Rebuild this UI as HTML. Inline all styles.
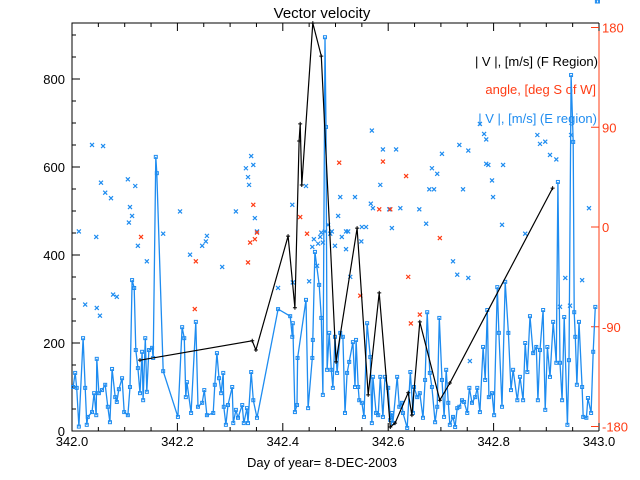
<!DOCTYPE html>
<html><head><meta charset="utf-8"><style>
html,body{margin:0;padding:0;background:#fff}
svg{display:block;font-family:"Liberation Sans",sans-serif}
</style></head><body>
<svg id="chart" width="640" height="480">
<text x="322" y="18" font-size="15" text-anchor="middle">Vector velocity</text>
<text x="322" y="467" font-size="13" text-anchor="middle">Day of year= 8-DEC-2003</text>
<g font-size="13" text-anchor="end">
<text x="598" y="66" fill="#000">| V |, [m/s] (F Region)</text>
<text x="596" y="94" fill="#ff3c14">angle, [deg S of W]</text>
<text x="597" y="123" fill="#1e8cf0">| V |, [m/s] (E region)</text>
</g>
<g id="axes"></g>
<g id="marks"></g>
</svg>
<script>
const xTicks=[342.0,342.2,342.4,342.6,342.8,343.0];
const xTickLabels=["342.0","342.2","342.4","342.6","342.8","343.0"];
const yTicks=[0,200,400,600,800];
const angTicks=[180,90,0,-90,-180];
const fDoy=[0.129,0.342,0.349,0.410,0.423,0.431,0.433,0.436,0.457,0.473,0.501,0.541,0.562,0.583,0.604,0.613,0.638,0.645,0.660,0.698,0.717,0.912];
const fVel=[161,205,184,443,280,659,698,559,927,852,157,461,82,314,9,18,87,36,248,70,109,552];
const eDoy=[0.002,0.006,0.009,0.013,0.021,0.025,0.028,0.030,0.038,0.042,0.046,0.047,0.051,0.057,0.063,0.068,0.072,0.076,0.082,0.085,0.089,0.095,0.099,0.106,0.110,0.114,0.118,0.121,0.125,0.129,0.133,0.135,0.139,0.142,0.146,0.152,0.154,0.159,0.161,0.173,0.201,0.209,0.213,0.216,0.218,0.226,0.235,0.239,0.247,0.251,0.256,0.268,0.271,0.275,0.279,0.283,0.287,0.288,0.292,0.296,0.304,0.306,0.311,0.315,0.323,0.326,0.332,0.334,0.340,0.344,0.351,0.391,0.414,0.418,0.419,0.423,0.427,0.428,0.444,0.448,0.456,0.457,0.461,0.469,0.473,0.476,0.480,0.482,0.484,0.488,0.492,0.495,0.499,0.503,0.509,0.514,0.518,0.522,0.526,0.533,0.537,0.539,0.543,0.545,0.550,0.554,0.560,0.566,0.569,0.571,0.577,0.581,0.585,0.590,0.594,0.600,0.604,0.607,0.609,0.617,0.621,0.626,0.628,0.636,0.642,0.647,0.649,0.655,0.660,0.666,0.670,0.674,0.679,0.683,0.689,0.693,0.697,0.702,0.706,0.710,0.714,0.717,0.723,0.727,0.731,0.735,0.740,0.744,0.750,0.754,0.759,0.765,0.769,0.774,0.780,0.784,0.788,0.791,0.797,0.801,0.807,0.810,0.816,0.822,0.828,0.833,0.837,0.845,0.850,0.856,0.860,0.864,0.869,0.875,0.881,0.884,0.888,0.894,0.898,0.902,0.907,0.913,0.919,0.922,0.926,0.930,0.934,0.940,0.943,0.947,0.951,0.953,0.955,0.958,0.962,0.968,0.970,0.976,0.979,0.985,0.989,0.993,0.996,0.998];
const eVel=[100,132,98,10,211,98,14,32,43,86,36,164,86,93,105,55,20,141,77,66,95,120,43,36,100,343,325,184,143,86,180,70,211,89,184,189,166,623,586,136,32,236,211,77,111,41,248,55,64,93,36,41,105,177,120,86,132,55,14,59,100,18,48,30,59,18,52,18,134,70,30,277,261,214,245,43,59,166,298,52,166,207,407,332,257,82,895,691,139,223,139,98,214,132,223,214,41,132,157,202,100,207,100,70,64,32,245,168,18,123,41,36,123,32,123,98,25,41,18,123,55,64,41,7,134,41,100,77,86,30,116,270,132,100,20,55,257,116,32,139,64,14,32,9,52,55,70,66,41,98,64,77,98,43,191,116,275,77,86,36,327,223,55,339,223,93,139,70,123,70,200,134,261,177,191,70,184,275,48,191,123,248,155,566,155,70,259,14,161,809,657,270,214,105,248,100,32,30,75,41,180,282];
const bAngDoy=[0.038,0.059,0.055,0.063,0.074,0.046,0.013,0.025,0.047,0.053,0.078,0.085,0.106,0.108,0.110,0.114,0.120,0.125,0.142,0.173,0.205,0.224,0.247,0.254,0.256,0.285,0.311,0.330,0.334,0.336,0.340,0.344,0.347,0.351,0.391,0.418,0.419,0.444,0.450,0.456,0.459,0.465,0.467,0.471,0.473,0.476,0.480,0.486,0.490,0.493,0.499,0.505,0.509,0.512,0.520,0.528,0.569,0.590,0.615,0.585,0.537,0.524,0.520,0.549,0.550,0.558,0.567,0.571,0.602,0.607,0.623,0.659,0.672,0.683,0.678,0.687,0.693,0.702,0.735,0.752,0.786,0.786,0.774,0.782,0.790,0.797,0.742,0.818,0.799,0.816,0.723,0.731,0.752,0.755,0.883,0.888,0.898,0.907,0.919,0.947,0.981,0.936,0.968,0.926,0.945,0.860];
const bAng=[74,73,40,31,26,-9,-4,-70,-73,-80,-61,-63,43,4,18,10,37,-17,-31,-6,14,-25,-17,-13,-8,-36,14,53,45,38,64,56,8,-4,-55,20,-50,37,-49,-18,-11,-35,-15,-9,-5,-14,-4,2,-6,-4,-17,10,27,-9,-4,-45,87,70,70,38,27,-4,-20,-13,0,0,21,17,16,-1,17,16,3,53,34,34,48,66,74,69,57,79,93,84,56,42,34,56,27,2,-31,-43,-46,-121,83,75,77,65,61,83,17,-46,-48,-72,-71,-6];
const rAngDoy=[0.131,0.235,0.233,0.334,0.338,0.344,0.347,0.351,0.433,0.446,0.507,0.590,0.583,0.604,0.634,0.660,0.638,0.547,0.643,0.698];
const rAng=[-9,-31,-74,-32,-14,20,-11,-5,9,-6,58,59,16,16,46,-79,-45,-62,-87,-10];

const NS='http://www.w3.org/2000/svg';
const L=72,R=599,T=23,B=431;
const BLUE='#1e8cf0',RED='#ff3c14';
function xs(d){return L+(d-342)*(R-L);}
function xd(off){return xs(342+off);}
function yv(v){return B-v*0.44;}
function ya(a){return 227-a*(199.5/180);}
function mk(tag,attrs,parent){const e=document.createElementNS(NS,tag);for(const k in attrs)e.setAttribute(k,attrs[k]);parent.appendChild(e);return e;}
const axes=document.getElementById('axes'),marks=document.getElementById('marks');

// frame
let e=mk('path',{d:`M${R} ${T}H${L}V${B}H${R}`,fill:'none',stroke:'#000','stroke-width':1},axes);


e=mk('line',{x1:R,y1:T,x2:R,y2:B,stroke:RED},axes);


// x ticks
for(let i=0;i<=20;i++){const x=xs(342+i*0.05);const len=(i%4===0)?8:4;
 e=mk('line',{x1:x,y1:B,x2:x,y2:B-len,stroke:'#000'},axes);
 
 
 e=mk('line',{x1:x,y1:T,x2:x,y2:T+len,stroke:'#000'},axes);
 
 }
xTicks.forEach((t,i)=>{e=mk('text',{x:xs(t),y:B+15,'font-size':13,'text-anchor':'middle'},axes);e.textContent=xTickLabels[i];
 
 });
// y ticks
for(let v=0;v<=900;v+=50){const y=yv(v);const len=(v%200===0)?8:4;
 e=mk('line',{x1:L,y1:y,x2:L+len,y2:y,stroke:'#000'},axes);
 
 }
yTicks.forEach(v=>{e=mk('text',{x:L-7,y:yv(v)+5,'font-size':13,'text-anchor':'end'},axes);e.textContent=String(v);
 
 });
angTicks.forEach(a=>{const y=ya(a);
 e=mk('line',{x1:R-8,y1:y,x2:R,y2:y,stroke:RED},axes);
 
 
 e=mk('text',{x:R+3,y:y+5,'font-size':13,fill:RED},axes);e.textContent=String(a);
 
 });

function cross(x,y,col,name){e=mk('path',{d:`M${x-2} ${y-2}L${x+2} ${y+2}M${x-2} ${y+2}L${x+2} ${y-2}`,stroke:col,'stroke-width':1.2},marks);
 
 }
// angle scatter
bAngDoy.forEach((d,i)=>cross(xd(d),ya(bAng[i]),BLUE,'e-angle-point'));
rAngDoy.forEach((d,i)=>cross(xd(d),ya(rAng[i]),RED,'f-angle-point'));
// E region line
let pts=eDoy.map((d,i)=>xd(d).toFixed(1)+','+yv(eVel[i]).toFixed(1)).join(' ');
e=mk('polyline',{points:pts,fill:'none',stroke:BLUE,'stroke-width':1.3},marks);


eDoy.forEach((d,i)=>{e=mk('rect',{x:xd(d)-1.5,y:yv(eVel[i])-1.5,width:3,height:3,fill:'none',stroke:BLUE,'stroke-width':1},marks);
 
 });
// F region line
pts=fDoy.map((d,i)=>xd(d).toFixed(1)+','+yv(fVel[i]).toFixed(1)).join(' ');
e=mk('polyline',{points:pts,fill:'none',stroke:'#000','stroke-width':1.2},marks);


fDoy.forEach((d,i)=>{const x=xd(d),y=yv(fVel[i]);
 e=mk('path',{d:`M${x-2} ${y}H${x+2}M${x} ${y-2}V${y+2}`,stroke:'#000'},marks);
 
 });
</script>
</body></html>
